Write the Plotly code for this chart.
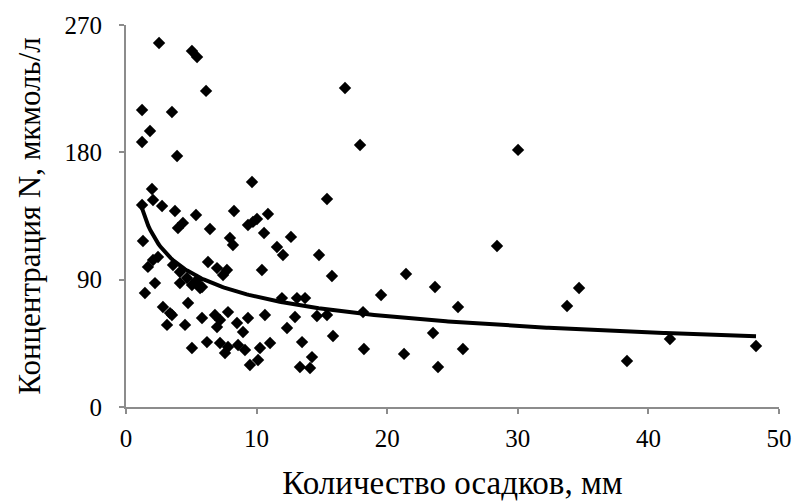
import plotly.graph_objects as go
import numpy as np

# Precipitation amount, mm
precip_mm = [2.53, 5.05, 5.44, 6.13, 1.23, 3.52, 1.84, 1.23, 3.91, 16.77, 17.92, 30.02,
             9.65, 1.99, 15.39, 1.23, 2.07, 2.76, 3.75, 5.36, 4.36, 3.98, 6.43, 8.27,
             9.34, 9.72, 10.03, 10.87, 10.57, 7.96, 8.19, 11.56, 12.02, 12.63, 14.78,
             1.30, 2.07, 1.68, 2.45, 6.28, 6.97, 7.43, 7.73, 10.41, 3.60, 4.13, 4.67,
             5.44, 5.82, 2.22, 1.45, 4.75, 2.83, 3.37, 3.14, 4.52, 5.82, 6.81, 7.20,
             7.81, 6.97, 8.50, 8.96, 9.34, 10.64, 12.33, 12.94, 13.71, 5.05, 6.20, 7.20,
             7.58, 7.81, 8.58, 9.11, 10.26, 11.03, 9.49, 13.48, 13.32, 14.09, 14.24,
             10.11, 11.94, 13.09, 14.62, 15.39, 18.15, 15.85, 18.22, 21.29, 19.53,
             15.77, 21.44, 23.66, 25.42, 23.51, 23.89, 25.80, 28.41, 34.69, 33.77,
             41.65, 38.36, 48.24, 4.13, 5.05, 5.67, 3.52]
# N concentration, umol/l
conc_n = [257.3, 251.6, 247.4, 223.4, 209.9, 208.5, 195.1, 187.3, 177.4, 225.5, 185.2, 181.7,
          159.0, 154.1, 147.0, 142.8, 146.3, 142.1, 138.5, 135.7, 130.1, 126.5, 125.8, 138.5,
          128.6, 130.8, 132.9, 136.4, 123.0, 119.5, 114.5, 113.1, 107.4, 120.2, 107.4,
          117.3, 103.9, 99.0, 106.0, 102.5, 98.2, 93.3, 96.8, 96.8, 100.4, 95.4, 91.2,
          89.8, 84.8, 87.6, 80.6, 73.5, 70.7, 66.4, 58.0, 58.0, 62.9, 65.0, 61.5,
          67.1, 56.5, 59.4, 53.0, 62.9, 65.0, 55.8, 63.6, 77.0, 41.7, 45.9, 45.2,
          38.2, 42.4, 43.8, 40.3, 41.7, 45.2, 29.7, 45.9, 28.3, 27.6, 35.3,
          33.2, 77.0, 77.0, 64.3, 65.0, 67.1, 50.2, 41.0, 37.5, 79.2,
          92.6, 94.0, 84.8, 70.7, 52.3, 28.3, 41.0, 113.8, 84.1, 71.4,
          48.1, 32.5, 43.1, 87.6, 86.2, 84.1, 65.0]

# Power trend line parameters (y = a * x^b)
TREND_A = 148.8
TREND_B = -0.281

x_ticks = [0, 10, 20, 30, 40, 50]
y_ticks = [0, 90, 180, 270]

x_fit = np.linspace(min(precip_mm), max(precip_mm), 300)
y_fit = TREND_A * x_fit ** TREND_B

fig = go.Figure()
fig.add_trace(go.Scatter(
    x=precip_mm, y=conc_n, mode="markers",
    marker=dict(symbol="diamond", size=9.5, color="black", line=dict(width=0)),
    showlegend=False, cliponaxis=False))
fig.add_trace(go.Scatter(
    x=x_fit, y=y_fit, mode="lines",
    line=dict(color="black", width=4), showlegend=False))

font_family = "Liberation Serif, Times New Roman, serif"
axis_common = dict(
    showgrid=False, zeroline=False, showline=True, linecolor="#8c8c8c", linewidth=2,
    ticks="outside", ticklen=5, tickwidth=1.5, tickcolor="#8c8c8c",
    tickfont=dict(family=font_family, size=25, color="black"),
    automargin=False,
)
fig.update_layout(
    width=793, height=501,
    margin=dict(l=126, r=14, t=25, b=94),
    paper_bgcolor="white", plot_bgcolor="white",
    hovermode=False,
    xaxis=dict(range=[0, 50], tickvals=x_ticks, ticklabelstandoff=3,
               title=dict(text="Количество осадков, мм",
                          font=dict(family=font_family, size=33, color="black"),
                          standoff=21),
               **axis_common),
    yaxis=dict(range=[0, 270], tickvals=y_ticks, ticklabelstandoff=12,
               title=dict(text="Концентрация N, мкмоль/л",
                          font=dict(family=font_family, size=31, color="black"),
                          standoff=15),
               **axis_common),
)
fig.write_html(
    "out.html",
    config={"displayModeBar": False},
    post_script="document.body.style.margin='0';document.body.style.overflow='hidden';"
                "document.documentElement.style.overflow='hidden';",
)
